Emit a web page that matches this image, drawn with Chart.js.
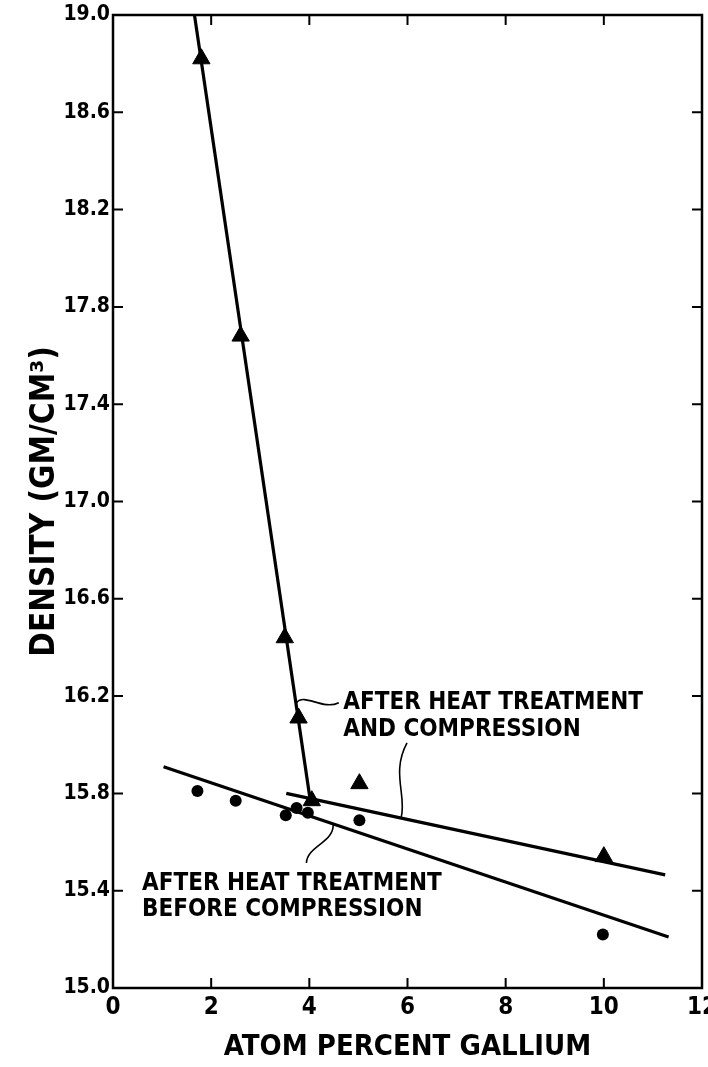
<!DOCTYPE html>
<html><head><meta charset="utf-8">
<script src="https://cdn.jsdelivr.net/npm/chart.js@4.4.1/dist/chart.umd.min.js"></script>
<style>html,body{margin:0;padding:0;background:#fff;overflow:hidden}#wrap{width:708px;height:1067px;overflow:hidden}</style>
</head><body>
<div id="wrap"><canvas id="c" width="713" height="1067"></canvas></div>
<script>
// ---- data ----
const xTickValues = [0, 2, 4, 6, 8, 10, 12];
const yTickValues = [15.0, 15.4, 15.8, 16.2, 16.6, 17.0, 17.4, 17.8, 18.2, 18.6, 19.0];

// triangles: after heat treatment and compression
const compressedX = [1.80, 2.60, 3.50, 3.78, 4.05, 5.02, 10.0];
const compressedY = [18.82, 17.68, 16.44, 16.11, 15.77, 15.84, 15.54];

// dots: after heat treatment before compression
const beforeX = [1.72, 2.50, 3.52, 3.74, 3.97, 5.02, 9.98];
const beforeY = [15.81, 15.77, 15.71, 15.74, 15.72, 15.69, 15.22];

// drawn fit lines (end points)
const steepLineX = [1.66, 4.02];
const steepLineY = [19.00, 15.77];
const upperLineX = [3.53, 11.25];
const upperLineY = [15.80, 15.465];
const lowerLineX = [1.03, 11.32];
const lowerLineY = [15.91, 15.21];

const xTitle = "ATOM PERCENT GALLIUM";
const yTitle = "DENSITY (GM/CM\u00B3)";
const noteCompressed = ["AFTER HEAT TREATMENT", "AND COMPRESSION"];
const noteBefore = ["AFTER HEAT TREATMENT", "BEFORE COMPRESSION"];

const FAM = "'DejaVu Sans Condensed', 'DejaVu Sans', sans-serif";
const pts = (xs, ys) => xs.map((x, i) => ({x, y: ys[i]}));

const framePlugin = {
  id: 'frame',
  afterDraw(chart) {
    const {ctx, chartArea: a, scales: {x, y}} = chart;
    ctx.save();
    ctx.strokeStyle = '#000';
    ctx.lineWidth = 2.5;
    ctx.strokeRect(a.left, a.top, a.right - a.left, a.bottom - a.top);
    ctx.lineWidth = 2;
    const L = 10;
    y.ticks.forEach(t => {
      if (t.value <= y.min || t.value >= y.max) return;
      const py = y.getPixelForValue(t.value);
      ctx.beginPath();
      ctx.moveTo(a.left, py); ctx.lineTo(a.left + L, py);
      ctx.moveTo(a.right, py); ctx.lineTo(a.right - L, py);
      ctx.stroke();
    });
    x.ticks.forEach(t => {
      if (t.value <= x.min || t.value >= x.max) return;
      const px = x.getPixelForValue(t.value);
      ctx.beginPath();
      ctx.moveTo(px, a.bottom); ctx.lineTo(px, a.bottom - L);
      ctx.moveTo(px, a.top); ctx.lineTo(px, a.top + L);
      ctx.stroke();
    });
    ctx.restore();
  }
};

const notesPlugin = {
  id: 'notes',
  afterDatasetsDraw(chart) {
    const {ctx, scales: {x, y}} = chart;
    const P = (vx, vy) => [x.getPixelForValue(vx), y.getPixelForValue(vy)];
    ctx.save();
    ctx.fillStyle = '#000';
    ctx.font = "bold 24px " + FAM;
    ctx.textAlign = 'left';
    ctx.textBaseline = 'middle';
    let p = P(4.69, 16.172); ctx.fillText(noteCompressed[0], p[0], p[1]);
    p = P(4.69, 16.063); ctx.fillText(noteCompressed[1], p[0], p[1]);
    p = P(0.59, 15.430); ctx.fillText(noteBefore[0], p[0], p[1]);
    p = P(0.59, 15.321); ctx.fillText(noteBefore[1], p[0], p[1]);

    ctx.strokeStyle = '#000';
    ctx.lineWidth = 1.6;
    const curve = (a, b, c, d) => {
      const A = P(...a), B = P(...b), C = P(...c), D = P(...d);
      ctx.beginPath();
      ctx.moveTo(A[0], A[1]);
      ctx.bezierCurveTo(B[0], B[1], C[0], C[1], D[0], D[1]);
      ctx.stroke();
    };
    // tilde leader to upper note
    curve([3.74, 16.173], [3.90, 16.214], [4.28, 16.140], [4.60, 16.173]);
    // leader from upper note to compressed line
    curve([5.99, 16.008], [5.66, 15.885], [5.99, 15.790], [5.87, 15.700]);
    // leader from lower line to lower note
    curve([4.487, 15.670], [4.487, 15.597], [3.96, 15.584], [3.94, 15.514]);
    ctx.restore();
  }
};

new Chart(document.getElementById('c'), {
  type: 'scatter',
  data: {
    datasets: [
      {type: 'line', data: pts(steepLineX, steepLineY), borderColor: '#000', borderWidth: 3.2, pointRadius: 0, showLine: true, fill: false, tension: 0},
      {type: 'line', data: pts(upperLineX, upperLineY), borderColor: '#000', borderWidth: 3.2, pointRadius: 0, showLine: true, fill: false, tension: 0},
      {type: 'line', data: pts(lowerLineX, lowerLineY), borderColor: '#000', borderWidth: 3.2, pointRadius: 0, showLine: true, fill: false, tension: 0},
      {data: pts(compressedX, compressedY), pointStyle: 'triangle', pointRadius: 10, backgroundColor: '#000', borderColor: '#000', borderWidth: 1},
      {data: pts(beforeX, beforeY), pointStyle: 'circle', pointRadius: 6, backgroundColor: '#000', borderColor: '#000', borderWidth: 0}
    ]
  },
  options: {
    responsive: false,
    devicePixelRatio: 1,
    animation: false,
    layout: {padding: {top: 15, right: 0, left: 0, bottom: 0}},
    plugins: {legend: {display: false}, tooltip: {enabled: false}, title: {display: false}},
    scales: {
      x: {
        type: 'linear', min: 0, max: 12,
        grid: {display: false, drawTicks: false},
        border: {display: false},
        afterBuildTicks: s => { s.ticks = xTickValues.map(v => ({value: v})); },
        ticks: {color: '#000', padding: 5, font: {family: FAM, size: 24, weight: 'bold'}, autoSkip: false, maxRotation: 0,
                callback: v => String(v)},
        title: {display: true, text: xTitle, color: '#000', font: {family: FAM, size: 29, weight: 'bold'}, padding: {top: 0, bottom: 2.6}},
        afterFit: s => { s.height = 79; s.paddingLeft = 0; s.paddingRight = 0; }
      },
      y: {
        type: 'linear', min: 15, max: 19,
        grid: {display: false, drawTicks: false},
        border: {display: false},
        afterBuildTicks: s => { s.ticks = yTickValues.map(v => ({value: v})); },
        ticks: {color: '#000', padding: 3, font: {family: FAM, size: 21, weight: 'bold'}, autoSkip: false,
                callback: v => Number(v).toFixed(1)},
        title: {display: true, text: yTitle, color: '#000', font: {family: FAM, size: 33, weight: 'bold'}, padding: {top: 26, bottom: 0}},
        afterFit: s => { s.width = 113; s.paddingTop = 0; s.paddingBottom = 0; }
      }
    }
  },
  plugins: [framePlugin, notesPlugin]
});
</script>
</body></html>
